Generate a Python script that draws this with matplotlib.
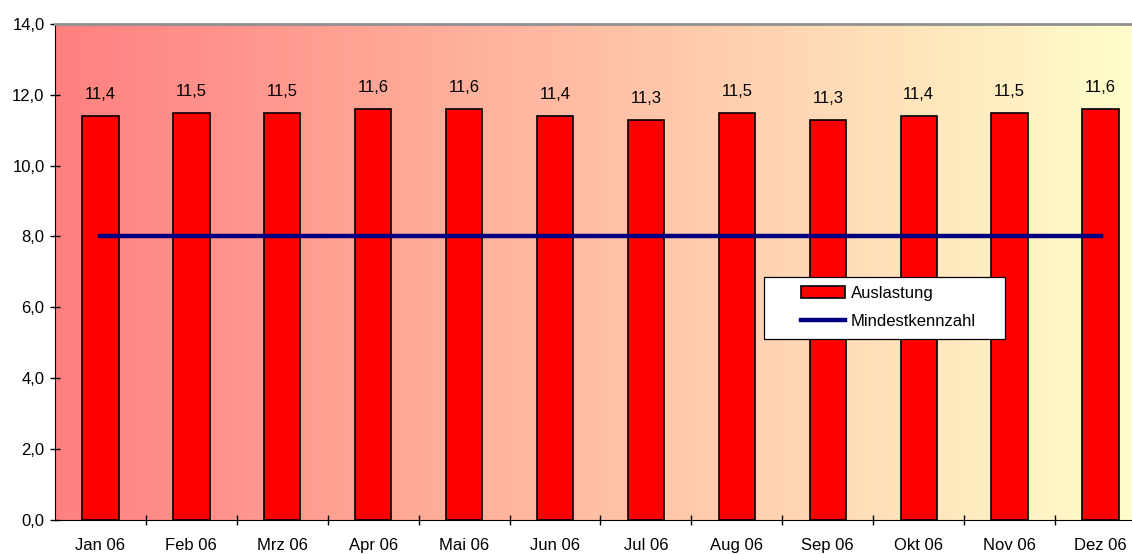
import numpy as np
import matplotlib.pyplot as plt
from matplotlib.colors import LinearSegmentedColormap
from matplotlib.ticker import FuncFormatter, FixedLocator
from matplotlib.patches import Rectangle

plt.rcParams['font.family'] = ['Liberation Sans', 'DejaVu Sans']

# -----------------------------
# Data
# -----------------------------
months = ["Jan 06", "Feb 06", "Mrz 06", "Apr 06", "Mai 06", "Jun 06",
          "Jul 06", "Aug 06", "Sep 06", "Okt 06", "Nov 06", "Dez 06"]
auslastung = [11.4, 11.5, 11.5, 11.6, 11.6, 11.4, 11.3, 11.5, 11.3, 11.4, 11.5, 11.6]
mindestkennzahl = [8.0] * 12

FS = 12

def de_fmt(v, pos=None):
    return f"{v:.1f}".replace(".", ",")

# -----------------------------
# Figure
# -----------------------------
W, H = 1132, 554
fig = plt.figure(figsize=(W / 100, H / 100), dpi=100)
left, right, top, bottom = 55, 1146, 24, 519.7
ax = fig.add_axes([left / W, (H - bottom) / H, (right - left) / W, (bottom - top) / H])

# background gradient, red on the left to pale yellow on the right
cmap = LinearSegmentedColormap.from_list("bg", ["#FF8080", "#FFFFCC"])
grad = np.linspace(0, 1, 512).reshape(1, -1)
ax.imshow(grad, cmap=cmap, aspect="auto", extent=[0, 1, 0, 1],
          transform=ax.transAxes, zorder=0, interpolation="bicubic")

x = np.arange(len(months))
bars = ax.bar(x, auslastung, width=0.4, color="#FF0000", edgecolor="black",
              linewidth=1.2, zorder=2, label="Auslastung")
line, = ax.plot(x, mindestkennzahl, color="#000080", linewidth=3.2, zorder=3,
                label="Mindestkennzahl")

for xi, v in zip(x, auslastung):
    ax.annotate(de_fmt(v), (xi, v), xytext=(0, 12), textcoords="offset points",
                ha="center", va="baseline", fontsize=FS, zorder=4)

ax.set_xlim(-0.5, len(months) - 0.5)
ax.set_ylim(0, 14)

ax.set_yticks(np.arange(0, 15, 2))
ax.yaxis.set_major_formatter(FuncFormatter(de_fmt))
ax.tick_params(axis="y", direction="inout", length=7, width=1, labelsize=FS, pad=4)

ax.set_xticks(x)
ax.set_xticklabels(months)
ax.tick_params(axis="x", which="major", length=0, labelsize=FS, pad=13)
ax.xaxis.set_minor_locator(FixedLocator(np.arange(0.5, len(months) - 0.5, 1)))
ax.tick_params(axis="x", which="minor", direction="inout", length=7, width=1)

ax.spines["left"].set_color("black")
ax.spines["bottom"].set_color("black")
ax.spines["top"].set_color("#909090")
ax.spines["top"].set_linewidth(2)
ax.spines["right"].set_visible(False)

# legend box with extra room on the left
ax.add_patch(Rectangle((0.6499, 0.3645), 0.2209, 0.1251, transform=ax.transAxes,
                       facecolor="white", edgecolor="black", linewidth=0.9,
                       zorder=5))
leg = ax.legend([bars, line], ["Auslastung", "Mindestkennzahl"],
                loc="upper left", bbox_to_anchor=(0.6765, 0.488), fontsize=FS,
                frameon=False, handlelength=2.6, handletextpad=0.35,
                borderpad=0, labelspacing=0.75)
leg.set_zorder(6)

fig.savefig("out.png", dpi=100)
